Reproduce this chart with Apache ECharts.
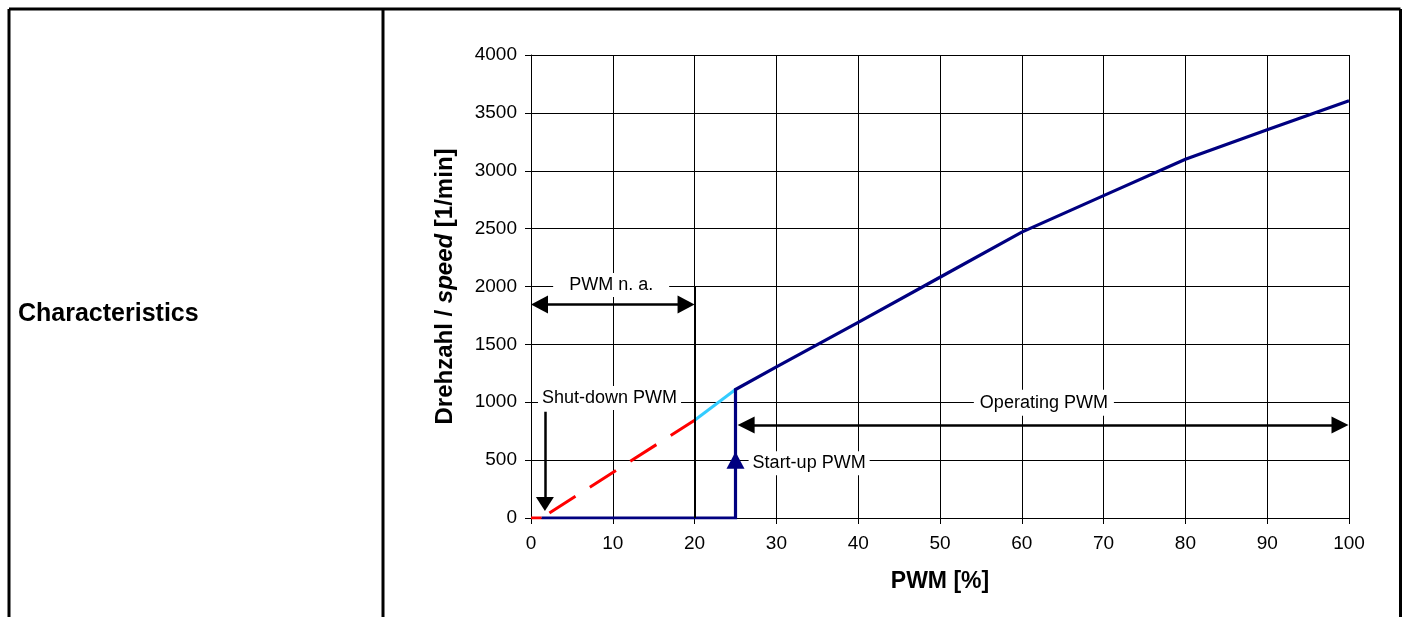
<!DOCTYPE html>
<html>
<head>
<meta charset="utf-8">
<script src="https://cdn.jsdelivr.net/npm/echarts@6/dist/echarts.min.js"></script>
<style>
html,body{margin:0;padding:0;background:#fff;}
#chart{width:1407px;height:617px;}
</style>
</head>
<body>
<div id="chart"></div>
<script>
// ---- data ----
const xTicks = [0, 10, 20, 30, 40, 50, 60, 70, 80, 90, 100];
const yTicks = [0, 500, 1000, 1500, 2000, 2500, 3000, 3500, 4000];
// operating curve (navy): flat at 0 up to start-up, vertical jump, then speed curve
const navyCurve = [[1.3, 0], [25, 0], [25, 1110], [30, 1305], [40, 1690], [50, 2080], [60, 2470], [70, 2785], [80, 3100], [90, 3355], [100, 3605]];
// hysteresis part (light blue)
const cyanCurve = [[20, 845], [25, 1110]];
// not-available part (red)
const redSolid = [[0, 0], [1.3, 0]];
const redDashed = [[1.3, 0], [20, 845]];
// annotation texts and anchor values
const annoText = ['PWM n. a.', 'Shut-down PWM', 'Operating PWM', 'Start-up PWM'];
const annoX = [9.8, 9.6, 62.7, 34.0];
const annoY = [2012, 1036, 995, 472];
// arrows: [x1, y1, x2, y2]
const arrowNA = [1.04, 1845, 18.96, 1845];
const arrowOperating = [26.3, 803, 98.9, 803];
const arrowShutdown = [1.7, 918, 1.7, 120];
const lineNA = [20, 0, 20, 2000];
const startupMarker = [[25, 500]];

const FONT = '"Liberation Sans", Arial, Helvetica, sans-serif';
const annoPadding = [[3, 16], [3, 4], [4, 6], [3, 4]];

const chart = echarts.init(document.getElementById('chart'), null, {renderer: 'canvas'});

const annoData = annoText.map((t, i) => ({
  value: [annoX[i], annoY[i]],
  label: {padding: annoPadding[i]}
}));

const option = {
  animation: false,
  backgroundColor: '#fff',
  grid: {left: 531, right: 58, top: 55, bottom: 99, containLabel: false, outerBoundsMode: 'none'},
  xAxis: {
    type: 'value', min: 0, max: 100, interval: 10,
    name: 'PWM [%]', nameLocation: 'middle', nameGap: 52,
    nameTextStyle: {fontFamily: FONT, fontSize: 23, fontWeight: 'bold', color: '#000'},
    axisLine: {show: true, onZero: false, lineStyle: {color: '#000', width: 1}},
    axisTick: {show: true, length: 6, inside: false, lineStyle: {color: '#000', width: 1}},
    axisLabel: {fontFamily: FONT, fontSize: 19, color: '#000', margin: 16,
      formatter: v => xTicks.includes(v) ? String(v) : ''},
    splitLine: {show: true, lineStyle: {color: '#000', width: 1}}
  },
  yAxis: {
    type: 'value', min: 0, max: 4000, interval: 500,
    name: '{a|Drehzahl / }{b|speed}{a| [1/min]}', nameLocation: 'middle', nameGap: 74, nameRotate: 90,
    nameTextStyle: {
      fontFamily: FONT, fontSize: 24, fontWeight: 'bold', color: '#000',
      rich: {
        a: {fontFamily: FONT, fontSize: 24, fontWeight: 'bold', color: '#000'},
        b: {fontFamily: FONT, fontSize: 24, fontWeight: 'bold', fontStyle: 'italic', color: '#000'}
      }
    },
    axisLine: {show: true, lineStyle: {color: '#000', width: 1}},
    axisTick: {show: true, length: 6, inside: false, lineStyle: {color: '#000', width: 1}},
    axisLabel: {fontFamily: FONT, fontSize: 19, color: '#000', margin: 14,
      formatter: v => yTicks.includes(v) ? String(v) : ''},
    splitLine: {show: true, lineStyle: {color: '#000', width: 1}}
  },
  graphic: [
    {type: 'line', silent: true, shape: {x1: 9, y1: 9, x2: 1400.5, y2: 9}, style: {stroke: '#000', lineWidth: 3}},
    {type: 'line', silent: true, shape: {x1: 9, y1: 9, x2: 9, y2: 617}, style: {stroke: '#000', lineWidth: 3}},
    {type: 'line', silent: true, shape: {x1: 383, y1: 9, x2: 383, y2: 617}, style: {stroke: '#000', lineWidth: 3}},
    {type: 'line', silent: true, shape: {x1: 1400.5, y1: 9, x2: 1400.5, y2: 617}, style: {stroke: '#000', lineWidth: 3}},
    {type: 'text', silent: true, x: 18, y: 314,
      style: {text: 'Characteristics', font: 'bold 25px ' + FONT, fill: '#000', verticalAlign: 'middle', align: 'left'}}
  ],
  series: [
    {
      name: 'red solid', type: 'line', data: redSolid, symbol: 'none', silent: true, z: 2,
      lineStyle: {color: '#ff0000', width: 3}
    },
    {
      name: 'red dashed', type: 'line', data: redDashed, symbol: 'none', silent: true, z: 2,
      lineStyle: {color: '#ff0000', width: 3, type: [31, 17], dashOffset: 38.8, cap: 'butt'}
    },
    {
      name: 'cyan', type: 'line', data: cyanCurve, symbol: 'none', silent: true, z: 3,
      lineStyle: {color: '#33ccff', width: 3}
    },
    {
      name: 'navy', type: 'line', data: navyCurve, symbol: 'none', silent: true, z: 4,
      lineStyle: {color: '#000080', width: 3.2, join: 'miter'}
    },
    {
      name: 'startup marker', type: 'scatter', data: startupMarker, symbol: 'triangle',
      symbolSize: [18, 17], silent: true, z: 6,
      itemStyle: {color: '#000080', opacity: 1}
    },
    {
      name: 'arrows', type: 'line', data: [], silent: true, z: 5,
      markLine: {
        silent: true, animation: false,
        label: {show: false}, emphasis: {disabled: true},
        lineStyle: {color: '#000', width: 2.5, type: 'solid', opacity: 1},
        data: [
          [
            {coord: [arrowNA[0], arrowNA[1]], symbol: 'triangle', symbolSize: [18, 17]},
            {coord: [arrowNA[2], arrowNA[3]], symbol: 'triangle', symbolSize: [18, 17]}
          ],
          [
            {coord: [arrowOperating[0], arrowOperating[1]], symbol: 'triangle', symbolSize: [17, 17]},
            {coord: [arrowOperating[2], arrowOperating[3]], symbol: 'triangle', symbolSize: [17, 17]}
          ],
          [
            {coord: [arrowShutdown[0], arrowShutdown[1]], symbol: 'none'},
            {coord: [arrowShutdown[2], arrowShutdown[3]], symbol: 'triangle', symbolSize: [18, 14]}
          ],
          [
            {coord: [lineNA[0], lineNA[1]], symbol: 'none', lineStyle: {width: 2}},
            {coord: [lineNA[2], lineNA[3]], symbol: 'none'}
          ]
        ]
      }
    },
    {
      name: 'annotations', type: 'scatter', data: annoData, symbolSize: 0, silent: true, z: 7,
      itemStyle: {opacity: 1},
      label: {
        show: true, position: 'inside', opacity: 1,
        formatter: p => annoText[p.dataIndex],
        fontFamily: FONT, fontSize: 18, color: '#000',
        backgroundColor: '#fff'
      }
    }
  ]
};
chart.setOption(option);
</script>
</body>
</html>
